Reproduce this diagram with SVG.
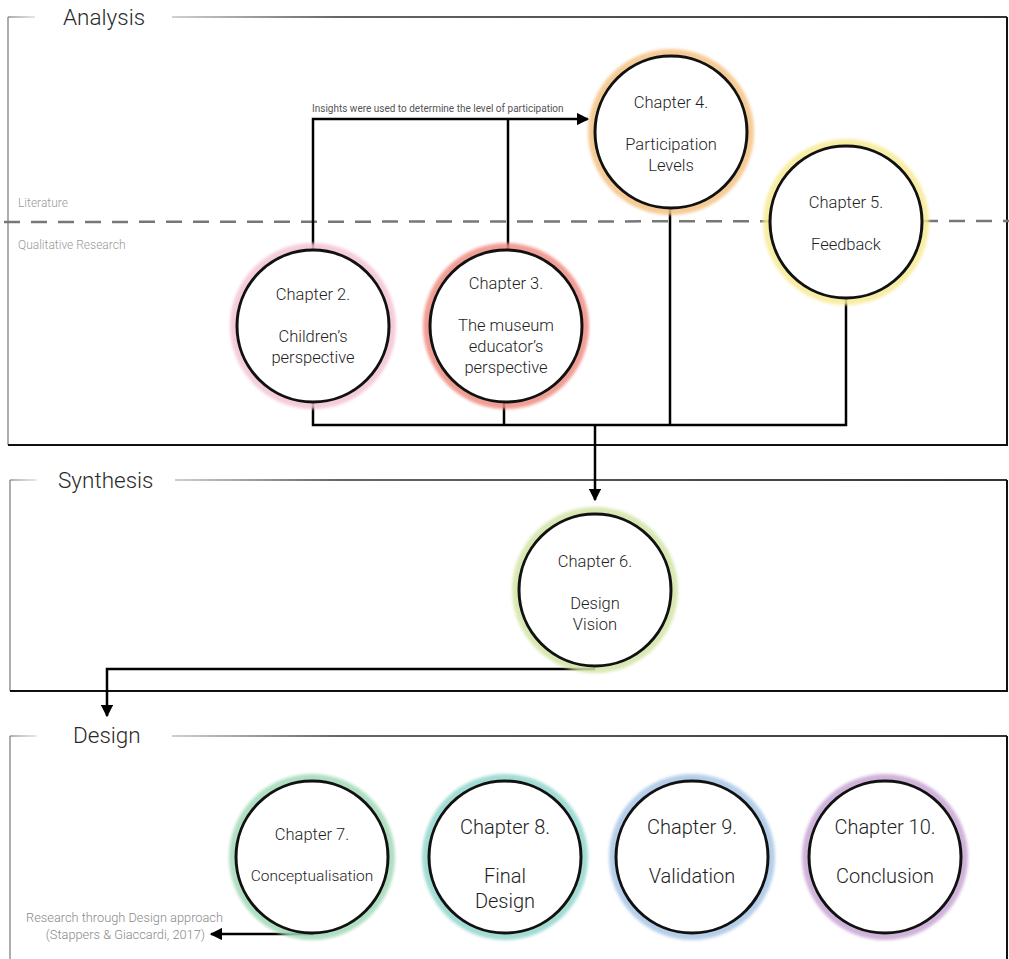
<svg xmlns="http://www.w3.org/2000/svg" width="1009" height="959" viewBox="0 0 1009 959">
  <defs>
    <linearGradient id="topline" gradientUnits="userSpaceOnUse" x1="172" y1="0" x2="1007" y2="0">
      <stop offset="0" stop-color="#d0d0d0"/>
      <stop offset="0.2" stop-color="#666"/>
      <stop offset="1" stop-color="#333"/>
    </linearGradient>
    <linearGradient id="stub" gradientUnits="userSpaceOnUse" x1="8" y1="0" x2="37" y2="0">
      <stop offset="0" stop-color="#777"/>
      <stop offset="1" stop-color="#ddd"/>
    </linearGradient>
    <filter id="soft" x="-30%" y="-30%" width="160%" height="160%">
      <feGaussianBlur stdDeviation="1.6"/>
    </filter>
    <marker id="arrow" viewBox="0 0 10 10" refX="9" refY="5" markerWidth="5" markerHeight="5" orient="auto" markerUnits="strokeWidth">
      <path d="M0,0 L10,5 L0,10 z" fill="#000"/>
    </marker>
  </defs>
  <style>
    .frame-side { fill: none; stroke: #777; stroke-width: 1.2; }
    .frame-edge { fill: none; stroke: #111; stroke-width: 2; }
    .frame-top { fill: none; stroke: url(#topline); stroke-width: 2; }
    .frame-stub { fill: none; stroke: url(#stub); stroke-width: 1.2; }
    text { font-family: Roboto, "Liberation Sans", sans-serif; font-weight: 300; }
    .phase { font-size: 22.5px; fill: #2a2a2a; }
    .layer { font-size: 12px; fill: #9a9a9a; }
    .note { font-size: 10px; fill: #555; font-weight: 400; }
    .ref { font-size: 12.8px; fill: #8a8a8a; }
    .halo { fill: none; stroke-width: 8; filter: url(#soft); opacity: 0.85; }
    .ring { fill: #fff; stroke: #111; stroke-width: 3; }
    .label { font-size: 16.5px; fill: #1e1e1e; text-anchor: middle; }
    .label-lg { font-size: 20px; fill: #1e1e1e; text-anchor: middle; }
    .link { fill: none; stroke: #000; stroke-width: 2.5; }
    .divider { stroke: #777; stroke-width: 2.5; stroke-dasharray: 16 11; }
  </style>

  <!-- Phase frames -->
  <g id="frame-analysis">
    <path class="frame-stub" d="M8,17 H35"/>
    <path class="frame-side" d="M8,17 V445"/>
    <path class="frame-top" d="M172,17 H1007"/>
    <path class="frame-edge" d="M1007,17 V445 H8"/>
    <text class="phase" x="63" y="25">Analysis</text>
  </g>
  <g id="frame-synthesis">
    <path class="frame-stub" d="M10,480 H37"/>
    <path class="frame-side" d="M10,480 V691"/>
    <path class="frame-top" d="M175,480 H1007"/>
    <path class="frame-edge" d="M1007,480 V691 H10"/>
    <text class="phase" x="58" y="488">Synthesis</text>
  </g>
  <g id="frame-design">
    <path class="frame-stub" d="M10,736 H37"/>
    <path class="frame-side" d="M10,736 V959"/>
    <path class="frame-top" d="M172,736 H1007"/>
    <path class="frame-edge" d="M1007,736 V959"/>
    <text class="phase" x="73" y="743">Design</text>
  </g>

  <!-- Literature / qualitative research divider -->
  <g id="divider">
    <line class="divider" x1="4" y1="222" x2="1009" y2="221"/>
    <text class="layer" x="18" y="207">Literature</text>
    <text class="layer" x="18" y="249">Qualitative Research</text>
  </g>

  <!-- Connectors -->
  <g id="connectors">
    <path class="link" d="M313,250 V119 H588" marker-end="url(#arrow)"/>
    <path class="link" d="M508,249 V119"/>
    <text class="note" x="312" y="112">Insights were used to determine the level of participation</text>
    <path class="link" d="M313,402 V425 H846 V298"/>
    <path class="link" d="M504,403 V425"/>
    <path class="link" d="M670,208 V425"/>
    <path class="link" d="M595,425 V500" marker-end="url(#arrow)"/>
    <path class="link" d="M595,669 H107 V716" marker-end="url(#arrow)"/>
    <path class="link" d="M313,934 H211" marker-end="url(#arrow)"/>
    <text class="ref" x="223" y="922" text-anchor="end">Research through Design approach</text>
    <text class="ref" x="205" y="939" text-anchor="end">(Stappers &amp; Giaccardi, 2017)</text>
  </g>

  <!-- Chapters -->
  <g id="ch2">
    <circle class="halo" cx="313" cy="326" r="79" stroke="#f3c3d4"/>
    <circle class="ring" cx="313" cy="326" r="76"/>
    <text class="label" x="313" y="300">Chapter 2.</text>
    <text class="label" x="313" y="342">Children’s</text>
    <text class="label" x="313" y="363">perspective</text>
  </g>
  <g id="ch3">
    <circle class="halo" cx="506" cy="326" r="79" stroke="#ef8c82"/>
    <circle class="ring" cx="506" cy="326" r="76"/>
    <text class="label" x="506" y="289">Chapter 3.</text>
    <text class="label" x="506" y="331">The museum</text>
    <text class="label" x="506" y="352">educator’s</text>
    <text class="label" x="506" y="373">perspective</text>
  </g>
  <g id="ch4">
    <circle class="halo" cx="671" cy="132" r="79" stroke="#f4c283"/>
    <circle class="ring" cx="671" cy="132" r="76"/>
    <text class="label" x="671" y="108">Chapter 4.</text>
    <text class="label" x="671" y="150">Participation</text>
    <text class="label" x="671" y="171">Levels</text>
  </g>
  <g id="ch5">
    <circle class="halo" cx="846" cy="222" r="79" stroke="#f7ea94"/>
    <circle class="ring" cx="846" cy="222" r="76"/>
    <text class="label" x="846" y="208">Chapter 5.</text>
    <text class="label" x="846" y="250">Feedback</text>
  </g>
  <g id="ch6">
    <circle class="halo" cx="595" cy="590" r="79" stroke="#d2e4a6"/>
    <circle class="ring" cx="595" cy="590" r="76"/>
    <text class="label" x="595" y="567">Chapter 6.</text>
    <text class="label" x="595" y="609">Design</text>
    <text class="label" x="595" y="630">Vision</text>
  </g>
  <g id="ch7">
    <circle class="halo" cx="312" cy="857" r="79" stroke="#a2d9b8"/>
    <circle class="ring" cx="312" cy="857" r="76"/>
    <text class="label" x="312" y="840">Chapter 7.</text>
    <text class="label" x="312" y="881" style="font-size:15.5px">Conceptualisation</text>
  </g>
  <g id="ch8">
    <circle class="halo" cx="505" cy="857" r="79" stroke="#92d6cd"/>
    <circle class="ring" cx="505" cy="857" r="76"/>
    <text class="label-lg" x="505" y="834">Chapter 8.</text>
    <text class="label-lg" x="505" y="883">Final</text>
    <text class="label-lg" x="505" y="908">Design</text>
  </g>
  <g id="ch9">
    <circle class="halo" cx="692" cy="857" r="79" stroke="#a8c6e6"/>
    <circle class="ring" cx="692" cy="857" r="76"/>
    <text class="label-lg" x="692" y="834">Chapter 9.</text>
    <text class="label-lg" x="692" y="883">Validation</text>
  </g>
  <g id="ch10">
    <circle class="halo" cx="885" cy="857" r="79" stroke="#c7a5d4"/>
    <circle class="ring" cx="885" cy="857" r="76"/>
    <text class="label-lg" x="885" y="834">Chapter 10.</text>
    <text class="label-lg" x="885" y="883">Conclusion</text>
  </g>
</svg>
